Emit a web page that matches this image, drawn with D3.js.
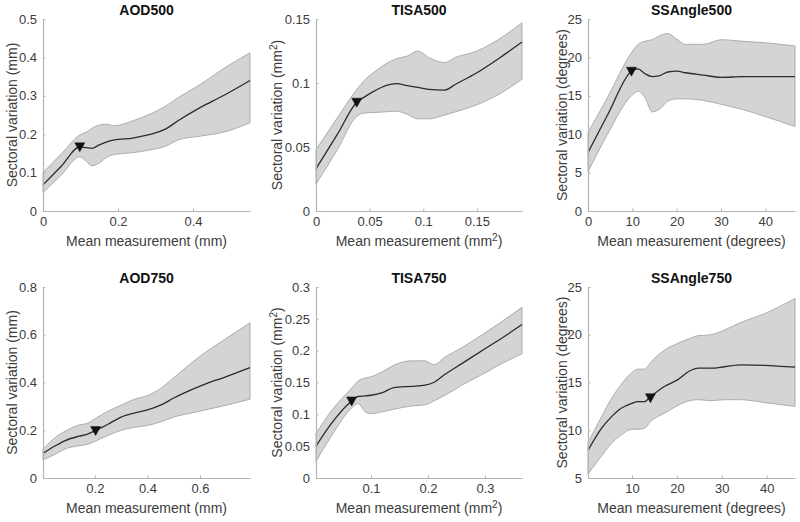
<!DOCTYPE html>
<html><head><meta charset="utf-8">
<script src="https://cdn.jsdelivr.net/npm/d3@7"></script>
<style>
html,body{margin:0;padding:0;background:#fff;}
svg{display:block;font-family:"Liberation Sans",Arial,Helvetica,sans-serif;}
</style></head>
<body><svg id="chart" width="800" height="522"></svg>
<script>
// ---------- DATA ----------
const titles = ["AOD500","TISA500","SSAngle500","AOD750","TISA750","SSAngle750"];

const aod500_x     = [0, 0.05, 0.098, 0.115, 0.13, 0.15, 0.17, 0.19, 0.24, 0.28, 0.33, 0.36, 0.42, 0.48, 0.552];
const aod500_mean  = [0.068, 0.118, 0.167, 0.165, 0.163, 0.172, 0.18, 0.185, 0.19, 0.198, 0.215, 0.235, 0.27, 0.30, 0.34];
const aod500_upper = [0.10, 0.15, 0.198, 0.205, 0.215, 0.224, 0.226, 0.222, 0.235, 0.25, 0.275, 0.295, 0.33, 0.37, 0.412];
const aod500_lower = [0.048, 0.095, 0.141, 0.13, 0.118, 0.125, 0.14, 0.147, 0.152, 0.158, 0.17, 0.185, 0.195, 0.205, 0.23];
const aod500_marker = [0.098, 0.167];

const tisa500_x     = [0, 0.02, 0.038, 0.045, 0.055, 0.065, 0.075, 0.085, 0.095, 0.105, 0.12, 0.13, 0.15, 0.17, 0.192];
const tisa500_mean  = [0.033, 0.06, 0.085, 0.089, 0.094, 0.098, 0.0995, 0.098, 0.0965, 0.095, 0.0945, 0.099, 0.108, 0.119, 0.132];
const tisa500_upper = [0.048, 0.073, 0.095, 0.102, 0.109, 0.115, 0.119, 0.121, 0.125, 0.12, 0.116, 0.12, 0.125, 0.134, 0.147];
const tisa500_lower = [0.021, 0.048, 0.074, 0.0765, 0.077, 0.0775, 0.078, 0.0755, 0.072, 0.072, 0.075, 0.0775, 0.083, 0.091, 0.103];
const tisa500_marker = [0.038, 0.085];

const ssa500_x     = [0, 4.5, 9.8, 11.3, 12.8, 14.5, 16, 18, 20, 22, 26, 30, 35, 40, 46.7];
const ssa500_mean  = [7.6, 12.6, 18.2, 18.5, 17.9, 17.5, 17.6, 18.1, 18.2, 18.0, 17.7, 17.4, 17.5, 17.5, 17.5];
const ssa500_upper = [10.2, 14.9, 20.6, 21.7, 22.1, 22.3, 22.8, 23.1, 22.4, 21.7, 21.7, 22.3, 22.1, 21.9, 21.5];
const ssa500_lower = [5.1, 10.1, 15.0, 15.6, 14.8, 12.9, 13.2, 14.3, 14.6, 14.6, 14.4, 13.9, 13.2, 12.3, 11.0];
const ssa500_marker = [9.8, 18.2];

const aod750_x     = [0.003, 0.05, 0.09, 0.14, 0.17, 0.203, 0.25, 0.3, 0.35, 0.4, 0.45, 0.5, 0.6, 0.7, 0.79];
const aod750_mean  = [0.103, 0.135, 0.158, 0.175, 0.183, 0.199, 0.225, 0.255, 0.272, 0.285, 0.305, 0.335, 0.385, 0.425, 0.462];
const aod750_upper = [0.12, 0.17, 0.198, 0.222, 0.228, 0.25, 0.28, 0.305, 0.33, 0.345, 0.375, 0.42, 0.51, 0.585, 0.65];
const aod750_lower = [0.075, 0.1, 0.123, 0.135, 0.14, 0.155, 0.178, 0.2, 0.212, 0.22, 0.235, 0.255, 0.28, 0.305, 0.33];
const aod750_marker = [0.203, 0.199];

const tisa750_x     = [0.0035, 0.03, 0.066, 0.077, 0.09, 0.1, 0.12, 0.14, 0.17, 0.195, 0.21, 0.23, 0.26, 0.3, 0.33, 0.365];
const tisa750_mean  = [0.05, 0.085, 0.121, 0.128, 0.129, 0.13, 0.134, 0.142, 0.144, 0.146, 0.15, 0.163, 0.18, 0.203, 0.22, 0.241];
const tisa750_upper = [0.07, 0.105, 0.141, 0.152, 0.157, 0.159, 0.167, 0.177, 0.184, 0.184, 0.178, 0.19, 0.205, 0.228, 0.246, 0.268];
const tisa750_lower = [0.026, 0.065, 0.11, 0.117, 0.104, 0.101, 0.104, 0.108, 0.113, 0.115, 0.121, 0.13, 0.146, 0.165, 0.18, 0.195];
const tisa750_marker = [0.066, 0.121];

const ssa750_x     = [0.2, 3.2, 5.4, 7.6, 9.9, 11.3, 12.8, 14.1, 17.3, 20.2, 22.8, 24.7, 27.6, 30.6, 34.3, 39.5, 46.3];
const ssa750_mean  = [7.9, 10.2, 11.4, 12.3, 12.8, 13.0, 13.0, 13.5, 14.6, 15.3, 16.2, 16.5, 16.5, 16.65, 16.85, 16.8, 16.6];
const ssa750_upper = [8.7, 11.4, 13.3, 14.8, 16.0, 16.4, 16.4, 17.1, 18.4, 19.1, 19.6, 19.9, 20.0, 20.5, 21.3, 22.2, 23.8];
const ssa750_lower = [5.4, 7.3, 8.6, 9.5, 10.1, 10.1, 10.2, 10.9, 11.8, 12.6, 13.1, 13.2, 13.1, 13.2, 13.2, 12.9, 12.5];
const ssa750_marker = [14.1, 13.4];

// axis domains and ticks
const xDomains = [[0,0.552],[0,0.192],[0,46.7],[0.003,0.79],[0.0035,0.365],[0.2,46.3]];
const yDomains = [[0,0.5],[0,0.15],[0,25],[0,0.8],[0,0.3],[5,25]];
const xTickVals = [[0,0.2,0.4],[0,0.05,0.1,0.15],[0,10,20,30,40],[0.2,0.4,0.6],[0.1,0.2,0.3],[10,20,30,40]];
const xTickLabels = [["0","0.2","0.4"],["0","0.05","0.1","0.15"],["0","10","20","30","40"],["0.2","0.4","0.6"],["0.1","0.2","0.3"],["10","20","30","40"]];
const yTickVals = [[0,0.1,0.2,0.3,0.4,0.5],[0,0.05,0.1,0.15],[0,5,10,15,20,25],[0,0.2,0.4,0.6,0.8],[0,0.05,0.1,0.15,0.2,0.25,0.3],[5,10,15,20,25]];
const yTickLabels = [["0","0.1","0.2","0.3","0.4","0.5"],["0","0.05","0.1","0.15"],["0","5","10","15","20","25"],["0","0.2","0.4","0.6","0.8"],["0","0.05","0.1","0.15","0.2","0.25","0.3"],["5","10","15","20","25"]];
const unitLabels = ["mm","mm2","degrees","mm","mm2","degrees"];

// ---------- DRAW ----------
const series = [
  [aod500_x, aod500_mean, aod500_upper, aod500_lower, aod500_marker],
  [tisa500_x, tisa500_mean, tisa500_upper, tisa500_lower, tisa500_marker],
  [ssa500_x, ssa500_mean, ssa500_upper, ssa500_lower, ssa500_marker],
  [aod750_x, aod750_mean, aod750_upper, aod750_lower, aod750_marker],
  [tisa750_x, tisa750_mean, tisa750_upper, tisa750_lower, tisa750_marker],
  [ssa750_x, ssa750_mean, ssa750_upper, ssa750_lower, ssa750_marker]
];

const colLeft = [43, 316, 588], colW = [207, 206, 207];
const rowTop = [19, 287], rowBot = [211, 478];
const yLabelX = [17, 282, 567];

const svg = d3.select("#chart");
const axisColor = "#b4b4b4", textColor = "#3c3c3c";

function addUnitText(sel, prefix, unit) {
  if (unit === "mm2") {
    sel.append("tspan").text(prefix + "(mm");
    sel.append("tspan").attr("baseline-shift","super").attr("font-size","10px").text("2");
    sel.append("tspan").text(")");
  } else {
    sel.text(prefix + "(" + unit + ")");
  }
}

series.forEach((s, i) => {
  const c = i % 3, r = Math.floor(i / 3);
  const x0 = colLeft[c], x1 = colLeft[c] + colW[c];
  const y0 = rowTop[r], y1 = rowBot[r];
  const xs = d3.scaleLinear().domain(xDomains[i]).range([x0, x1]);
  const ys = d3.scaleLinear().domain(yDomains[i]).range([y1, y0]);
  const [xv, mv, uv, lv, mk] = s;
  const pts = xv.map((d, k) => ({x: d, m: mv[k], u: uv[k], l: lv[k]}));
  const g = svg.append("g");

  // band
  g.append("path").datum(pts)
    .attr("d", d3.area().curve(d3.curveMonotoneX).x(d => xs(d.x)).y0(d => ys(d.l)).y1(d => ys(d.u)))
    .attr("fill", "#d4d4d4").attr("stroke", "#a6a6a6").attr("stroke-width", 0.9);
  // mean line
  g.append("path").datum(pts)
    .attr("d", d3.line().curve(d3.curveMonotoneX).x(d => xs(d.x)).y(d => ys(d.m)))
    .attr("fill", "none").attr("stroke", "#2b2b2b").attr("stroke-width", 1.3);
  // marker (downward triangle)
  const mx = xs(mk[0]), my = ys(mk[1]);
  g.append("path")
    .attr("d", `M${mx-5},${my-4}L${mx+5},${my-4}L${mx},${my+5}Z`)
    .attr("fill", "#111").attr("stroke", "#111").attr("stroke-width", 0.5);

  // axes
  const xa = d3.axisBottom(xs).tickValues(xTickVals[i]).tickFormat((d, k) => xTickLabels[i][k])
    .tickSizeInner(-2.5).tickSizeOuter(0).tickPadding(6);
  const ya = d3.axisLeft(ys).tickValues(yTickVals[i]).tickFormat((d, k) => yTickLabels[i][k])
    .tickSizeInner(-2.5).tickSizeOuter(0).tickPadding(6);
  const gx = g.append("g").attr("transform", `translate(0,${y1})`).call(xa);
  const gy = g.append("g").attr("transform", `translate(${x0},0)`).call(ya);
  [gx, gy].forEach(a => {
    a.select(".domain").attr("stroke", axisColor).attr("stroke-width", 1.2);
    a.selectAll(".tick line").attr("stroke", axisColor);
    a.selectAll(".tick text").attr("fill", textColor).attr("font-size", "13px")
      .attr("font-family", "'Liberation Sans',Arial,sans-serif");
  });
  gx.selectAll(".tick text").attr("dy", "0.72em");

  // title
  g.append("text").attr("x", (x0 + x1) / 2).attr("y", y0 - 4)
    .attr("text-anchor", "middle").attr("font-weight", "bold").attr("font-size", "14px")
    .attr("fill", "#111").text(titles[i]);

  // x label
  const xl = g.append("text").attr("x", (x0 + x1) / 2).attr("y", y1 + 35)
    .attr("text-anchor", "middle").attr("font-size", "14px").attr("fill", textColor);
  addUnitText(xl, "Mean measurement ", unitLabels[i]);

  // y label
  const yl = g.append("text")
    .attr("transform", `translate(${yLabelX[c]},${(y0 + y1) / 2}) rotate(-90)`)
    .attr("text-anchor", "middle").attr("font-size", "14px").attr("fill", textColor);
  addUnitText(yl, "Sectoral variation ", unitLabels[i]);
});
</script>
</body></html>
